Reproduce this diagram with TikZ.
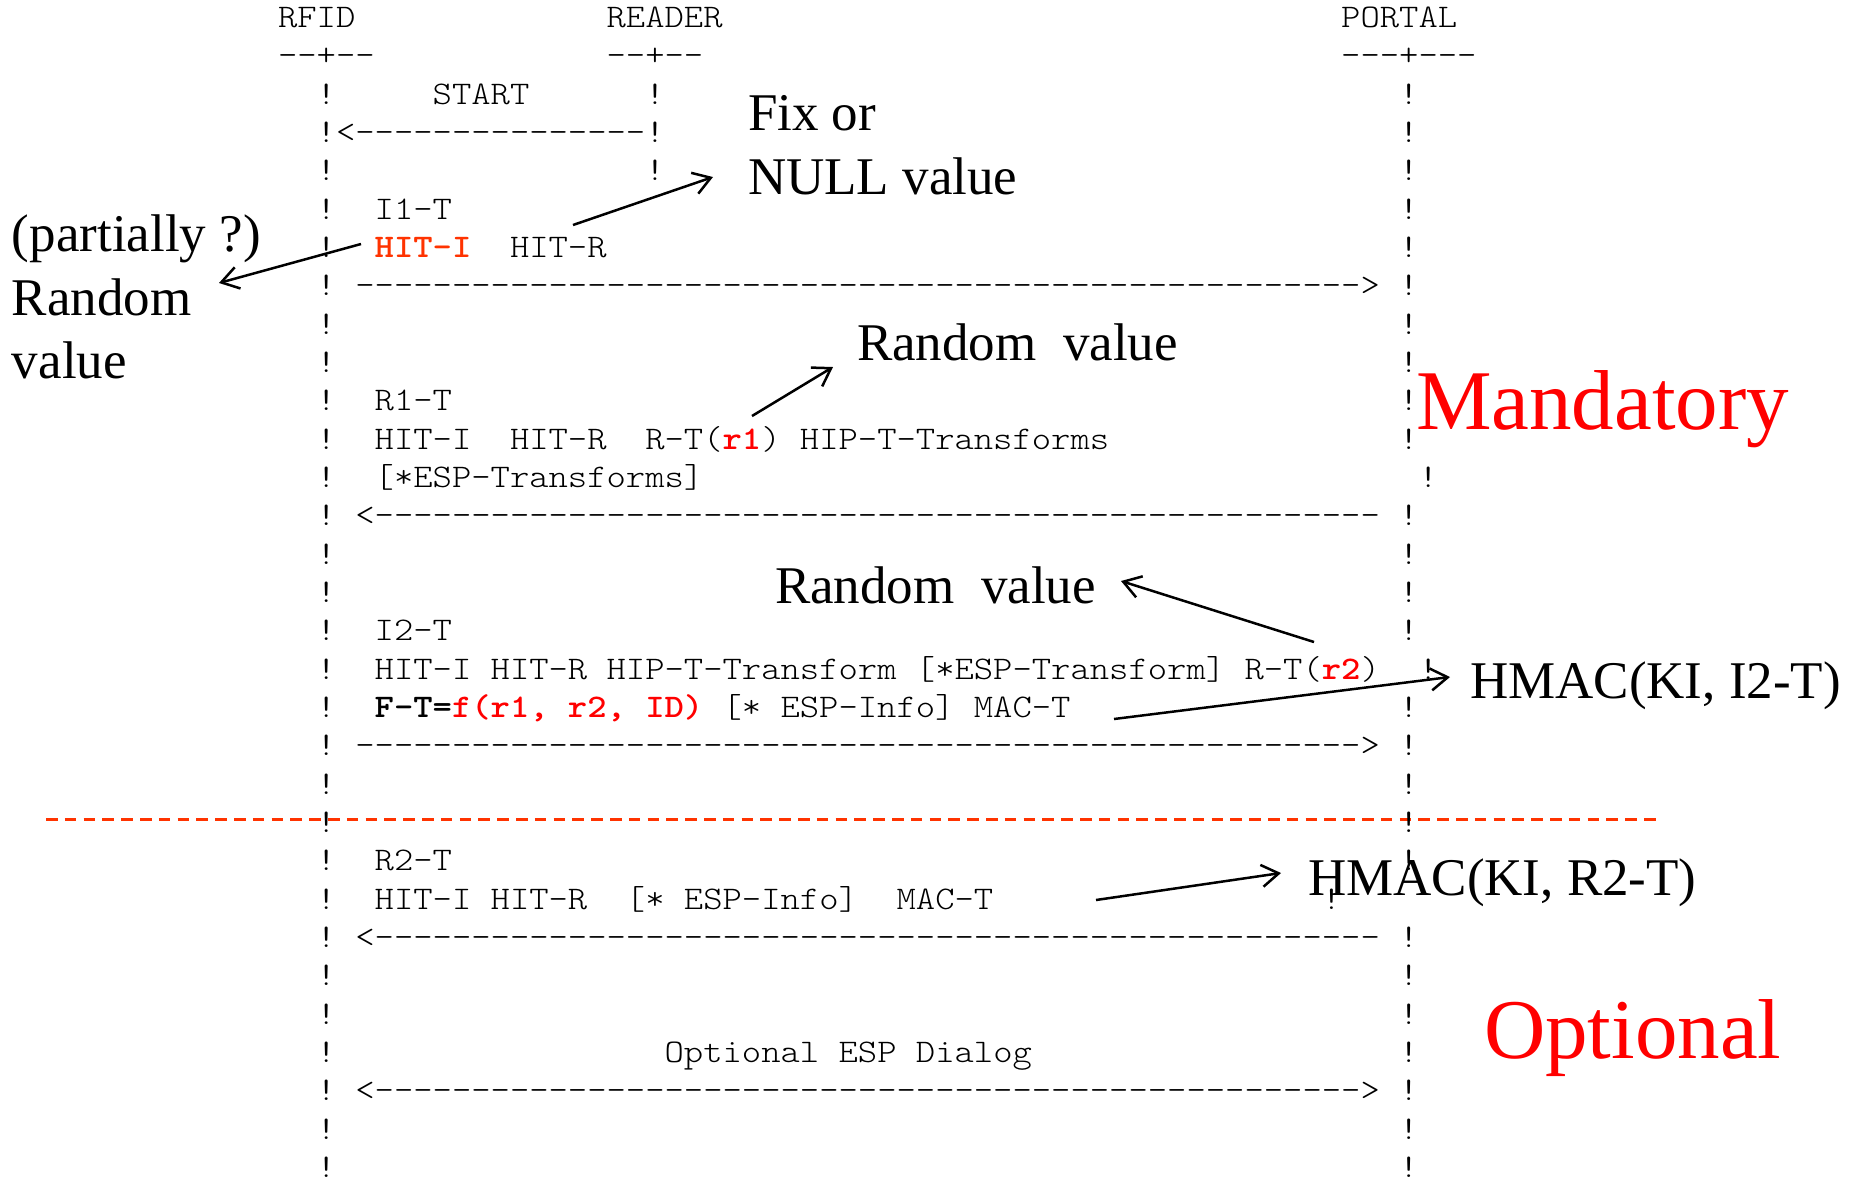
\documentclass[tikz,border=0pt]{standalone}
\usepackage{fontspec}
\usepackage{graphicx}
\usetikzlibrary{arrows.meta}
\newfontfamily\tnr{Liberation Serif}
\definecolor{hitred}{RGB}{255,51,0}
\definecolor{keyred}{RGB}{255,0,0}
% typewriter text of the message chart
\newcommand\monofont{\ttfamily\fontseries{l}\fontsize{33}{38}\selectfont}
\newcommand\bmono{\fontseries{b}\selectfont}
% a run of n separate hyphens
\newcommand\dsh[1]{\foreach \k in {1,...,#1}{-\kern0pt}}
\newcounter{segno}
% \seg{column}{row}{text}: one piece of the chart on the character grid
\newcommand\seg[3]{\stepcounter{segno}%
  \node[mono] (seg\arabic{segno}) at ({316.7+19.33*(#1)},{104+38.34*(#2)}) {\scalebox{1.1157}[1]{#3}};}
\tikzset{
  mono/.style={anchor=base west, inner sep=0pt, outer sep=0pt, font=\monofont},
  ann/.style={anchor=base west, inner sep=0pt, outer sep=0pt, font=\tnr\fontsize{53}{64}\selectfont},
  big/.style={anchor=base west, inner sep=0pt, outer sep=0pt, text=keyred, font=\tnr\fontsize{85}{100}\selectfont},
  pointer/.style={line width=2.5pt, -{Straight Barb[length=17pt, width=22pt]}},
  phase/.style={draw=hitred, line width=3pt, dash pattern=on 11.5pt off 7.3pt}
}
\begin{document}
\begin{tikzpicture}[x=1pt, y=-1pt]
\useasboundingbox (0,0) rectangle (1854,1179);
\fill[white] (0,0) rectangle (1854,1179);

% boundary between the mandatory and the optional exchange
\coordinate (sepL) at (46,819);
\coordinate (sepR) at (1660,819);
\draw[phase] (sepL) -- (sepR);

% column heads
\seg{-2}{-2}{RFID}
\seg{15}{-2}{READER}
\seg{53}{-2}{PORTAL}
\seg{-2}{-1}{\dsh{2}+\dsh{2}}
\seg{15}{-1}{\dsh{2}+\dsh{2}}
\seg{53}{-1}{\dsh{3}+\dsh{3}}

% life lines
\foreach \r in {0,...,28} {\seg{0}{\r}{!}}
\foreach \r in {0,1,2} {\seg{17}{\r}{!}}
\foreach \r in {0,...,9,11,12,13,14,16,17,18,19,20,22,23,...,28} {\seg{56}{\r}{!}}
\seg{57}{10}{!}
\seg{57}{15}{!}
\seg{52}{21}{!}

% messages
\seg{6}{0}{START}
\seg{1}{1}{<\dsh{15}}
\seg{3}{3}{I1-T}
\seg{3}{4}{\color{hitred}\bmono HIT-I}
\seg{10}{4}{HIT-R}
\seg{2}{5}{\dsh{52}>}
\seg{3}{8}{R1-T}
\seg{3}{9}{HIT-I~~HIT-R~~R-T({\color{keyred}\bmono r1})~HIP-T-Transforms}
\seg{3}{10}{[*ESP-Transforms]}
\seg{2}{11}{<\dsh{52}}
\seg{3}{14}{I2-T}
\seg{3}{15}{HIT-I~HIT-R~HIP-T-Transform~[*ESP-Transform]~R-T({\color{keyred}\bmono r2})}
\seg{3}{16}{{\bmono F-T={\color{keyred}f(r1,~r2,~ID)}}~[*~ESP-Info]~MAC-T}
\seg{2}{17}{\dsh{52}>}
\seg{3}{20}{R2-T}
\seg{3}{21}{HIT-I~HIT-R~~[*~ESP-Info]~~MAC-T}
\seg{2}{22}{<\dsh{52}}
\seg{18}{25}{Optional~ESP~Dialog}
\seg{2}{26}{<\dsh{51}>}

% notes
\node[ann] (fixa) at (748,130) {Fix or};
\node[ann] (fixb) at (748,194) {NULL value};
\node[ann] (parta) at (12,251) {(partially ?)};
\node[ann] (partb) at (12,315) {Random};
\node[ann] (partc) at (12,378) {value};
\node[ann] (rnda) at (857,360) {Random~~value};
\node[ann] (rndb) at (775,603) {Random~~value};
\node[ann] (hmaca) at (1470,698) {HMAC(KI, I2-T)};
\node[ann] (hmacb) at (1308,895) {HMAC(KI, R2-T)};
\node[big] (mand) at (1416,429) {Mandatory};
\node[big] (opt) at (1484,1058) {Optional};

% pointers from fields to notes
\coordinate (a1s) at (573,225); \coordinate (a1e) at (713,177);
\coordinate (a2s) at (361,244); \coordinate (a2e) at (219,283);
\coordinate (a3s) at (752,416); \coordinate (a3e) at (833,367);
\coordinate (a4s) at (1314,642); \coordinate (a4e) at (1121,581);
\coordinate (a5s) at (1114,719); \coordinate (a5e) at (1450,677);
\coordinate (a6s) at (1096,900); \coordinate (a6e) at (1281,873);
\draw[pointer] (a1s) -- (a1e);
\draw[pointer] (a2s) -- (a2e);
\draw[pointer] (a3s) -- (a3e);
\draw[pointer] (a4s) -- (a4e);
\draw[pointer] (a5s) -- (a5e);
\draw[pointer] (a6s) -- (a6e);
\end{tikzpicture}
\end{document}
